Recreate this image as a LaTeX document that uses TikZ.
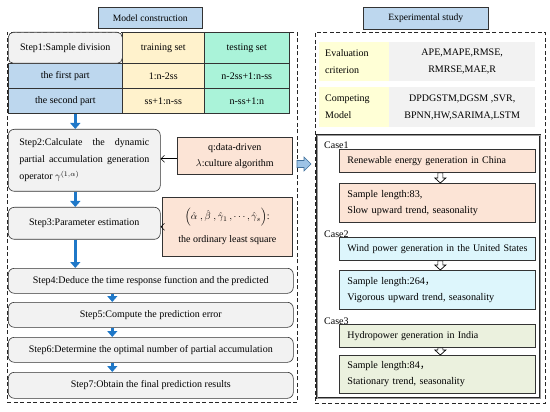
\documentclass[tikz,border=0pt]{standalone}
\usepackage{fontspec}
\setmainfont{Liberation Serif}
\newfontfamily\cjkfont{Noto Sans CJK SC}
\usetikzlibrary{arrows.meta,calc}
\definecolor{hblue}{HTML}{BDD7EE}
\definecolor{cyel}{HTML}{FFF2CC}
\definecolor{cmint}{HTML}{AAF3D9}
\definecolor{csalmon}{HTML}{FCE4D6}
\definecolor{cgray}{HTML}{F2F2F2}
\definecolor{eyel}{HTML}{FFFFD6}
\definecolor{ccyan}{HTML}{DDF6FC}
\definecolor{cgreen}{HTML}{EBF1DE}
\definecolor{arrblue}{HTML}{1F78C8}
\definecolor{bigarr}{HTML}{9DC3E6}
\definecolor{bigarrline}{HTML}{41719C}
\begin{document}
\begin{tikzpicture}[x=1pt,y=-1pt,
  every node/.style={font=\fontsize{10}{12}\selectfont, inner sep=2pt},
  cell/.style={draw=black!80, line width=0.6pt, anchor=north west},
  stepbox/.style={cell, fill=cgray, rounded corners=5pt},
  dbox/.style={draw=black!85, line width=0.8pt, dash pattern=on 4pt off 2.5pt, anchor=north west},
  hdr/.style={cell, fill=hblue, font=\fontsize{9.6}{11}\selectfont},
  casebox/.style={cell, line width=0.7pt, inner xsep=8pt, text width=180pt, align=left, minimum width=196pt},
  ecell/.style={anchor=north west, font=\fontsize{10}{17}\selectfont},
  barrow/.style={line width=3.6pt, draw=arrblue, -{Triangle[width=10pt,length=6pt]}},
  tarrow/.style={line width=0.6pt, -{Straight Barb[length=3.5pt,width=7pt]}},
  hollow/.style={draw=black, line width=0.7pt, fill=white},
  caselbl/.style={anchor=base west, inner sep=0pt, font=\fontsize{10}{12}\selectfont}
]
\useasboundingbox (0,0) rectangle (550,412);

% headers
\node[hdr, minimum width=104pt, minimum height=21pt] (mc) at (98,7) {Model construction};
\node[hdr, minimum width=125pt, minimum height=22pt] (es) at (363,7) {Experimental study};

% dashed frames
\node[dbox, minimum width=290pt, minimum height=370pt] (L) at (7,32) {};
\node[dbox, minimum width=230pt, minimum height=371pt] (R) at (315,32) {};

% table
\node[cell, fill=cyel, minimum width=82pt, minimum height=31pt] (train) at (122,32) {training set};
\node[cell, fill=cmint, minimum width=85pt, minimum height=31pt] (test) at (204,32) {testing set};
\node[cell, fill=hblue, minimum width=114pt, minimum height=25pt] (r1a) at (8,63) {the first part};
\node[cell, fill=cyel, minimum width=82pt, minimum height=25pt] (r1b) at (122,63) {1:n-2ss};
\node[cell, fill=cmint, minimum width=85pt, minimum height=25pt] (r1c) at (204,63) {n-2ss+1:n-ss};
\node[cell, fill=hblue, minimum width=114pt, minimum height=25pt] (r2a) at (8,88) {the second part};
\node[cell, fill=cyel, minimum width=82pt, minimum height=25pt] (r2b) at (122,88) {ss+1:n-ss};
\node[cell, fill=cmint, minimum width=85pt, minimum height=25pt] (r2c) at (204,88) {n-ss+1:n};
\node[stepbox, minimum width=114pt, minimum height=31pt] (s1) at (8,32) {Step1:Sample division};

% steps
\node[stepbox, rounded corners=6pt, minimum width=152pt, minimum height=62pt, text width=130pt, align=justify,
  font=\fontsize{10}{17}\selectfont] (s2) at (8,129)
  {Step2:Calculate the dynamic\linebreak partial accumulation generation\linebreak operator $\gamma^{(1,\alpha)}$};
\node[stepbox, rounded corners=6pt, minimum width=152pt, minimum height=32pt] (s3) at (8,207) {Step3:Parameter estimation};
\node[cell, fill=csalmon, minimum width=115pt, minimum height=37pt, align=center, font=\fontsize{10}{16}\selectfont] (q) at (177,137)
  {q:data-driven\\$\lambda$:culture algorithm};
\node[cell, fill=csalmon, minimum width=130pt, minimum height=59pt, align=center, font=\fontsize{10}{14}\selectfont] (p) at (162,197)
  {$\left(\hat{\alpha}\;,\hat{\beta}\;,\hat{\gamma}_1\,,\cdots,\hat{\gamma}_s\right)$:\\[9pt]the ordinary least square};
\node[stepbox, rounded corners=6pt, minimum width=285pt, minimum height=25pt] (s4) at (8,268) {Step4:Deduce the time response function and the predicted};
\node[stepbox, rounded corners=6pt, minimum width=285pt, minimum height=25pt] (s5) at (8,302) {Step5:Compute the prediction error};
\node[stepbox, rounded corners=6pt, minimum width=285pt, minimum height=25pt] (s6) at (8,337) {Step6:Determine the optimal number of partial accumulation};
\node[stepbox, rounded corners=6pt, minimum width=285pt, minimum height=26pt] (s7) at (8,372) {Step7:Obtain the final prediction results};

% blue arrows
\draw[barrow] ([xshift=10pt]r2a.south) -- ([xshift=10pt]r2a.south |- s2.north);
\draw[barrow] ([xshift=-9pt]s2.south) -- ([xshift=-9pt]s2.south |- s3.north);
\draw[barrow] ([xshift=-9pt]s3.south) -- ([xshift=-9pt]s3.south |- s4.north);
\draw[barrow] ([xshift=-38.5pt]s4.south) -- ([xshift=-38.5pt]s4.south |- s5.north);
\draw[barrow] ([xshift=-38.5pt]s5.south) -- ([xshift=-38.5pt]s5.south |- s6.north);
\draw[barrow] ([xshift=-38.5pt]s6.south) -- ([xshift=-38.5pt]s6.south |- s7.north);

% thin arrows
\draw[tarrow] ([yshift=-3pt]q.west) -- ([yshift=-3pt]q.west -| s2.east);
\draw[tarrow] (p.west) -- (p.west -| s3.east);

% big arrow between frames
\draw[draw=bigarrline, fill=bigarr, line width=0.6pt]
  (297,160.5) -- (304,160.5) -- (304,157) -- (311,164) -- (304,171) -- (304,167.5) -- (297,167.5) -- cycle;

% evaluation
\node[ecell, fill=eyel, minimum width=70pt, minimum height=39pt, text width=58pt, align=left, inner xsep=6pt] (e1a) at (319,42) {Evaluation\\criterion};
\node[ecell, fill=cgray, minimum width=146pt, minimum height=39pt, align=center] (e1b) at (389,42) {APE,MAPE,RMSE,\\RMRSE,MAE,R};
\node[ecell, fill=eyel, minimum width=70pt, minimum height=40pt, text width=58pt, align=left, inner xsep=6pt] (e2a) at (319,87) {Competing\\Model};
\node[ecell, fill=cgray, minimum width=146pt, minimum height=40pt, align=center] (e2b) at (389,87) {DPDGSTM,DGSM ,SVR,\\BPNN,HW,SARIMA,LSTM};

% cases frame
\node[anchor=north west, draw=black!85, double=black!40, double distance=0.8pt, line width=0.6pt,
  minimum width=223pt, minimum height=263pt] (cf) at (317,135) {};

\node[casebox, fill=csalmon, minimum height=23pt] (c1a) at (339,149) {Renewable energy generation in China};
\node[casebox, fill=csalmon, minimum height=39pt, font=\fontsize{10.2}{16}\selectfont] (c1b) at (339,183) {Sample length:83,\\Slow upward trend, seasonality};
\node[casebox, fill=ccyan, minimum height=23pt] (c2a) at (339,237) {\mbox{Wind power generation in the United States}};
\node[casebox, fill=ccyan, minimum height=39pt, font=\fontsize{10.2}{16}\selectfont] (c2b) at (339,270) {Sample length:264{\cjkfont ，}\\Vigorous upward trend, seasonality};
\node[casebox, fill=cgreen, minimum height=23pt] (c3a) at (339,324) {Hydropower generation in India};
\node[casebox, fill=cgreen, minimum height=38pt, font=\fontsize{10.2}{16}\selectfont] (c3b) at (339,355) {Sample length:84{\cjkfont ，}\\Stationary trend, seasonality};

\node[caselbl] (l1) at (324,149) {Case1};
\node[caselbl] (l2) at (324,237) {Case2};
\node[caselbl] (l3) at (324,324) {Case3};

% hollow arrows between case boxes
\foreach \a/\b in {c1a/c1b,c2a/c2b,c3a/c3b}{
  \path ([xshift=3pt]\a.south) coordinate (t) ([xshift=3pt]\b.north) coordinate (h);
  \draw[hollow] ($(t)+(-2.5,0)$) -- ($(h)+(-2.5,-5)$) -- ($(h)+(-5.5,-5)$) -- (h)
     -- ($(h)+(5.5,-5)$) -- ($(h)+(2.5,-5)$) -- ($(t)+(2.5,0)$) -- cycle;
}
\end{tikzpicture}
\end{document}
